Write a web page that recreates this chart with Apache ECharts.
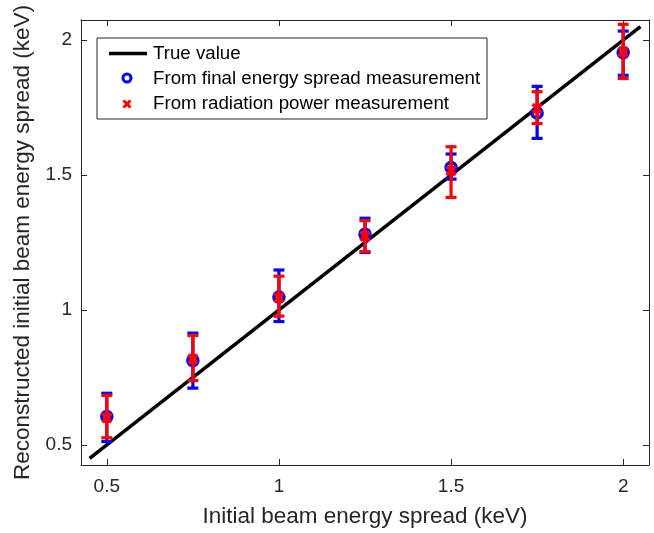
<!DOCTYPE html>
<html><head><meta charset="utf-8">
<script src="https://cdn.jsdelivr.net/npm/echarts@6/dist/echarts.min.js"></script>
<style>html,body{margin:0;padding:0;background:#fff}#c{width:654px;height:533px}</style>
</head><body><div id="c"></div>
<script>
const xs = [0.5, 0.75, 1, 1.25, 1.5, 1.75, 2];
const blueVal  = [0.605, 0.812, 1.048, 1.281, 1.528, 1.730, 1.954];
const blueLow  = [0.512, 0.710, 0.957, 1.213, 1.485, 1.636, 1.870];
const blueHigh = [0.691, 0.914, 1.148, 1.340, 1.578, 1.829, 2.034];
const redVal   = [0.600, 0.818, 1.045, 1.273, 1.516, 1.747, 1.957];
const redLow   = [0.526, 0.738, 0.977, 1.216, 1.417, 1.691, 1.858];
const redHigh  = [0.683, 0.905, 1.125, 1.331, 1.605, 1.809, 2.059];
const trueLine = [[0.45, 0.45], [2.05, 2.05]];
const xTicks = [0.5, 1, 1.5, 2];
const yTicks = [0.5, 1, 1.5, 2];
const legendNames = ['True value', 'From final energy spread measurement', 'From radiation power measurement'];

const FONT = 'Liberation Sans, Arial, sans-serif';
const AX = '#262626';

function ebData(vals, lows, highs) {
  return xs.map((x, i) => [x, vals[i], lows[i], highs[i]]);
}
function makeRender(color, marker) {
  return function (params, api) {
    const x = api.value(0);
    const p = api.coord([x, api.value(1)]);
    const lo = api.coord([x, api.value(2)]);
    const hi = api.coord([x, api.value(3)]);
    const cw = 5.5;
    const st = { stroke: color, lineWidth: 3.2, fill: null };
    const ch = [
      { type: 'line', shape: { x1: lo[0], y1: lo[1], x2: hi[0], y2: hi[1] }, style: st },
      { type: 'line', shape: { x1: lo[0] - cw, y1: lo[1], x2: lo[0] + cw, y2: lo[1] }, style: st },
      { type: 'line', shape: { x1: hi[0] - cw, y1: hi[1], x2: hi[0] + cw, y2: hi[1] }, style: st }
    ];
    if (marker === 'circle') {
      ch.push({ type: 'circle', shape: { cx: p[0], cy: p[1], r: 5 }, style: { stroke: color, lineWidth: 3.5, fill: null } });
    } else {
      const s = 4.5;
      ch.push({ type: 'line', shape: { x1: p[0] - s, y1: p[1] - s, x2: p[0] + s, y2: p[1] + s }, style: { stroke: color, lineWidth: 3.5 } });
      ch.push({ type: 'line', shape: { x1: p[0] - s, y1: p[1] + s, x2: p[0] + s, y2: p[1] - s }, style: { stroke: color, lineWidth: 3.5 } });
    }
    return { type: 'group', children: ch };
  };
}

const chart = echarts.init(document.getElementById('c'), null, { renderer: 'canvas' });
const axisCommon = {
  type: 'value',
  axisLine: { show: true, lineStyle: { color: AX, width: 1 } },
  splitLine: { show: false }
};
const gx = { min: 0.425, max: 2.075 };
const gy = { min: 0.425, max: 2.075 };

chart.setOption({
  animation: false,
  textStyle: { fontFamily: FONT },
  grid: { left: 81, right: 5, top: 20, bottom: 68, containLabel: false },
  xAxis: [
    Object.assign({}, axisCommon, gx, {
      position: 'bottom',
      name: 'Initial beam energy spread (keV)', nameLocation: 'middle', nameGap: 40,
      nameTextStyle: { fontSize: 22.5, color: AX, fontFamily: FONT },
      axisTick: { show: true, inside: true, length: 6, customValues: xTicks, lineStyle: { color: AX } },
      axisLabel: { show: true, customValues: xTicks, fontSize: 19, color: AX, margin: 12, fontFamily: FONT, formatter: v => String(v) }
    }),
    Object.assign({}, axisCommon, gx, {
      position: 'top',
      axisTick: { show: true, inside: true, length: 6, customValues: xTicks, lineStyle: { color: AX } },
      axisLabel: { show: false }
    })
  ],
  yAxis: [
    Object.assign({}, axisCommon, gy, {
      position: 'left',
      name: 'Reconstructed initial beam energy spread (keV)', nameLocation: 'middle', nameGap: 45,
      nameTextStyle: { fontSize: 22.5, color: AX, fontFamily: FONT },
      axisTick: { show: true, inside: true, length: 6, customValues: yTicks, lineStyle: { color: AX } },
      axisLabel: { show: true, customValues: yTicks, fontSize: 19, color: AX, margin: 9, fontFamily: FONT, formatter: v => String(v) }
    }),
    Object.assign({}, axisCommon, gy, {
      position: 'right',
      axisTick: { show: true, inside: true, length: 6, customValues: yTicks, lineStyle: { color: AX } },
      axisLabel: { show: false }
    })
  ],
  series: [
    {
      name: legendNames[0], type: 'line', data: trueLine, showSymbol: false,
      lineStyle: { color: '#000', width: 3.5 }, z: 2
    },
    {
      name: legendNames[1], type: 'custom', data: ebData(blueVal, blueLow, blueHigh),
      renderItem: makeRender('#0000ff', 'circle'), z: 3, encode: { x: 0, y: [1, 2, 3] }
    },
    {
      name: legendNames[2], type: 'custom', data: ebData(redVal, redLow, redHigh),
      renderItem: makeRender('#ff0000', 'cross'), z: 4, encode: { x: 0, y: [1, 2, 3] }
    }
  ],
  graphic: [
    { type: 'rect', x: 97, y: 38, shape: { width: 390, height: 81 }, style: { fill: '#fff', stroke: '#262626', lineWidth: 1 }, z: 10 },
    { type: 'line', shape: { x1: 109, y1: 53.5, x2: 147, y2: 53.5 }, style: { stroke: '#000', lineWidth: 3.5 }, z: 11 },
    { type: 'circle', shape: { cx: 127, cy: 78, r: 4 }, style: { stroke: '#0000ff', lineWidth: 3, fill: null }, z: 11 },
    { type: 'line', shape: { x1: 123.5, y1: 100.5, x2: 130.5, y2: 107.5 }, style: { stroke: '#ff0000', lineWidth: 3 }, z: 11 },
    { type: 'line', shape: { x1: 123.5, y1: 107.5, x2: 130.5, y2: 100.5 }, style: { stroke: '#ff0000', lineWidth: 3 }, z: 11 },
    { type: 'text', x: 153, y: 54, style: { text: legendNames[0], fontSize: 18.7, fill: '#000', fontFamily: FONT, verticalAlign: 'middle' }, z: 11 },
    { type: 'text', x: 153, y: 79, style: { text: legendNames[1], fontSize: 18.7, fill: '#000', fontFamily: FONT, verticalAlign: 'middle' }, z: 11 },
    { type: 'text', x: 153, y: 104, style: { text: legendNames[2], fontSize: 18.7, fill: '#000', fontFamily: FONT, verticalAlign: 'middle' }, z: 11 }
  ]
});
</script></body></html>
